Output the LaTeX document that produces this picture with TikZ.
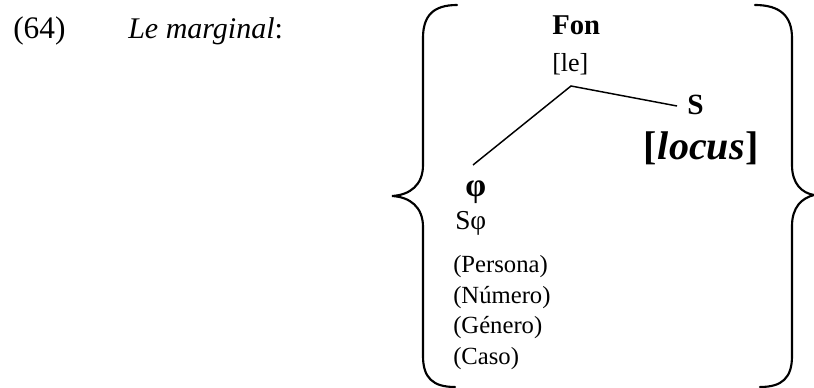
\documentclass[tikz,border=0pt]{standalone}
\usepackage{fontspec}
\setmainfont{Liberation Serif}
\begin{document}
\begin{tikzpicture}[x=0.75pt,y=-0.75pt,
  txt/.style={inner sep=0pt,anchor=base west},
  big/.style={txt,font=\fontsize{21}{25}\selectfont},
  mid/.style={txt,font=\fontsize{19.5}{23}\selectfont},
  small/.style={txt,font=\fontsize{18.5}{22}\selectfont},
  huge/.style={txt,font=\fontsize{30}{35}\selectfont\bfseries},
  branch/.style={line width=1.1pt},
  brace/.style={line width=1.6pt,line cap=round}]
\useasboundingbox (0,0) rectangle (814,388);

% example number and title
\node[big,font=\fontsize{23.5}{28}\selectfont] (num) at (13,39) {(64)};
\node[big,font=\fontsize{22.5}{27}\selectfont] (title) at (128,39) {\itshape Le marginal\/\upshape:};

% tree
\node[big,font=\fontsize{21.5}{25}\selectfont\bfseries] (fon) at (552,35) {Fon};
\node[mid] (le) at (552,72) {[le]};
\node[big,font=\fontsize{22}{26}\selectfont\bfseries] (s) at (687,115) {S};
\node[huge] (locus) at (643,160) {[\kern1pt\textit{locus}\kern1pt]};
\node[big,font=\fontsize{25}{29}\selectfont\bfseries] (phi) at (465,197) {φ};
\node[mid,font=\fontsize{20.5}{24}\selectfont] (sphi) at (455,230) {Sφ};
\node[small] (per) at (453,273) {(Persona)};
\node[small] (numr) at (453,304) {(Número)};
\node[small] (gen) at (453,334) {(Género)};
\node[small] (caso) at (453,364) {(Caso)};

\coordinate (apex) at (571,86);
\coordinate (send) at (677,106);
\coordinate (pend) at (473,165);
\draw[branch] (send) -- (apex) -- (pend);

% curly braces
\draw[brace] (457,5) .. controls (433,5) and (423,16) .. (423,38)
  -- (423,165) .. controls (423,185) and (410,195) .. (392,196)
  .. controls (410,197) and (423,207) .. (423,227)
  -- (423,356) .. controls (423,378) and (433,387) .. (455,387);
\draw[brace] (755,5) .. controls (780,5) and (792,16) .. (792,38)
  -- (792,165) .. controls (792,184) and (802,193) .. (814,195)
  .. controls (802,198) and (792,207) .. (792,226)
  -- (792,356) .. controls (792,378) and (782,387) .. (760,387);
\end{tikzpicture}
\end{document}
